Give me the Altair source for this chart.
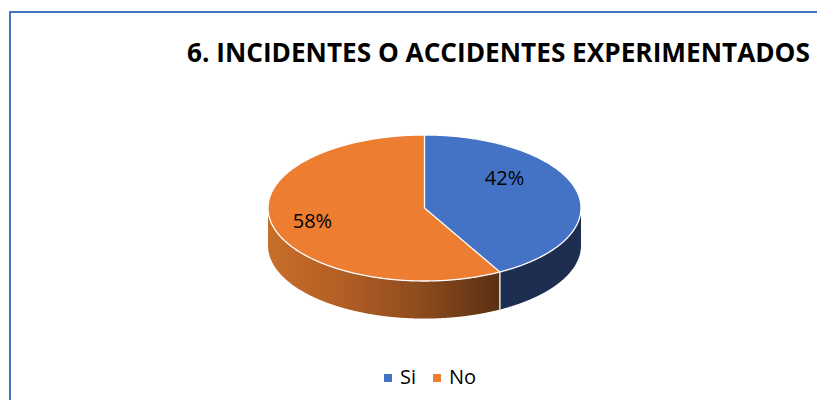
import numpy as np
import pandas as pd
import altair as alt

# ---- data ----
labels = ["Si", "No"]
values = [42, 58]
top_colors = ["#4472C4", "#ED7D31"]
side_blue = "#1E2E50"

title_text = "6. INCIDENTES O ACCIDENTES EXPERIMENTADOS"

# ---- geometry of the tilted pie (derived from the data) ----
B = 0.4665   # vertical squash of the ellipse
D = 0.24     # depth of the side
share = values[0] / sum(values)
ang_start = np.pi / 2
ang_end = ang_start - 2 * np.pi * share
xe, ye = np.cos(ang_end), B * np.sin(ang_end)
phi_e = -ang_end  # parametric angle on lower rim where the slices meet

phi = np.linspace(0, np.pi, 721)
orange_top = pd.DataFrame({"x": np.cos(phi), "y": B * np.sin(phi), "y2": -B * np.sin(phi), "label": labels[1]})

phb = np.linspace(0, np.pi / 2, 361)
xb = np.cos(phb)
line_y = np.where(xb <= xe, xb * ye / xe, -1e9)
blue_top = pd.DataFrame({"x": xb, "y": B * np.sin(phb),
                         "y2": np.maximum(line_y, -B * np.sin(phb)), "label": labels[0]})

phs_o = np.linspace(phi_e, np.pi, 500)
side_o = pd.DataFrame({"x": np.cos(phs_o), "y": -B * np.sin(phs_o), "y2": -B * np.sin(phs_o) - D})
phs_b = np.linspace(0, phi_e, 300)
side_b = pd.DataFrame({"x": np.cos(phs_b), "y": -B * np.sin(phs_b), "y2": -B * np.sin(phs_b) - D})

pho = np.linspace(0, 2 * np.pi, 721)
outline = pd.DataFrame({"x": np.cos(pho), "y": B * np.sin(pho), "o": np.arange(len(pho))})
dividers = pd.DataFrame({"x": [0, 0, 0, xe], "y": [B, 0, 0, ye], "seg": [0, 0, 1, 1], "o": [0, 1, 0, 1]})
edge = pd.DataFrame({"x": [xe], "y": [ye], "y2": [ye - D]})

mids = [ang_start - np.pi * share, ang_end - np.pi * (1 - share)]
rl = 0.66
text_df = pd.DataFrame({"x": [rl * np.cos(m) for m in mids],
                        "y": [rl * B * np.sin(m) for m in mids],
                        "txt": [f"{v}%" for v in values]})

# ---- scales ----
k = 156.5
W, H = 807, 388
cx, cy = 414.5, 196
xs = alt.Scale(domain=[-cx / k, (W - cx) / k], nice=False, zero=False)
ys = alt.Scale(domain=[-(H - cy) / k, cy / k], nice=False, zero=False)
X = alt.X("x:Q", scale=xs, axis=None)
Y = alt.Y("y:Q", scale=ys, axis=None)

color_scale = alt.Scale(domain=labels, range=top_colors)
legend = alt.Legend(title=None, orient="none", legendX=368, legendY=356, direction="horizontal",
                    symbolType="square", symbolSize=64, symbolStrokeWidth=0,
                    labelFont="Open Sans", labelFontSize=20, labelColor="#000000",
                    labelOffset=2, columnPadding=10, padding=0)

grad = alt.Gradient(gradient="linear",
                    stops=[alt.GradientStop(color="#C86E2A", offset=0),
                           alt.GradientStop(color="#B45F24", offset=0.3),
                           alt.GradientStop(color="#8E4C1E", offset=0.65),
                           alt.GradientStop(color="#5A3012", offset=1)],
                    x1=0, x2=1, y1=0, y2=0)

border_left = alt.Chart(pd.DataFrame({"a": [0]})).mark_rule(color="#4472C4", strokeWidth=2).encode(
    x=alt.value(0), y=alt.value(0), y2=alt.value(H + 20))
border_top = alt.Chart(pd.DataFrame({"a": [0]})).mark_rule(color="#4472C4", strokeWidth=2).encode(
    x=alt.value(-1), x2=alt.value(W + 20), y=alt.value(0))
title = alt.Chart(pd.DataFrame({"t": [title_text]})).mark_text(
    font="Open Sans", fontSize=26.2, fontWeight="bold", color="#000000",
    align="left", baseline="alphabetic").encode(
    x=alt.value(177), y=alt.value(50), text="t:N")

side_orange_l = alt.Chart(side_o).mark_area(color=grad).encode(x=X, y=Y, y2="y2:Q")
side_blue_l = alt.Chart(side_b).mark_area(color=side_blue).encode(x=X, y=Y, y2="y2:Q")
top_o = alt.Chart(orange_top).mark_area().encode(
    x=X, y=Y, y2="y2:Q", color=alt.Color("label:N", scale=color_scale, legend=legend))
top_b = alt.Chart(blue_top).mark_area().encode(
    x=X, y=Y, y2="y2:Q", color=alt.Color("label:N", scale=color_scale, legend=legend))
rim = alt.Chart(outline).mark_line(color="white", strokeWidth=1.3).encode(x=X, y=Y, order="o:Q")
divs = alt.Chart(dividers).mark_line(color="white", strokeWidth=1.3).encode(
    x=X, y=Y, detail="seg:N", order="o:Q")
edge_l = alt.Chart(edge).mark_rule(color="white", strokeWidth=1.3).encode(x=X, y=Y, y2="y2:Q")
txt_si = alt.Chart(text_df.iloc[[0]]).mark_text(
    font="Open Sans", fontSize=20, color="#000000", dx=-20, dy=-17).encode(x=X, y=Y, text="txt:N")
txt_no = alt.Chart(text_df.iloc[[1]]).mark_text(
    font="Open Sans", fontSize=20, color="#000000", dx=-12, dy=2).encode(x=X, y=Y, text="txt:N")

chart = alt.layer(border_left, border_top, title, side_orange_l, side_blue_l, top_o, top_b,
                  rim, divs, edge_l, txt_si, txt_no).properties(
    width=W, height=H,
    autosize="none",
    padding={"left": 2, "top": 4, "right": 0, "bottom": 0},
).configure_view(stroke=None)

chart.save("out.html", embed_options={"renderer": "svg", "actions": False})
